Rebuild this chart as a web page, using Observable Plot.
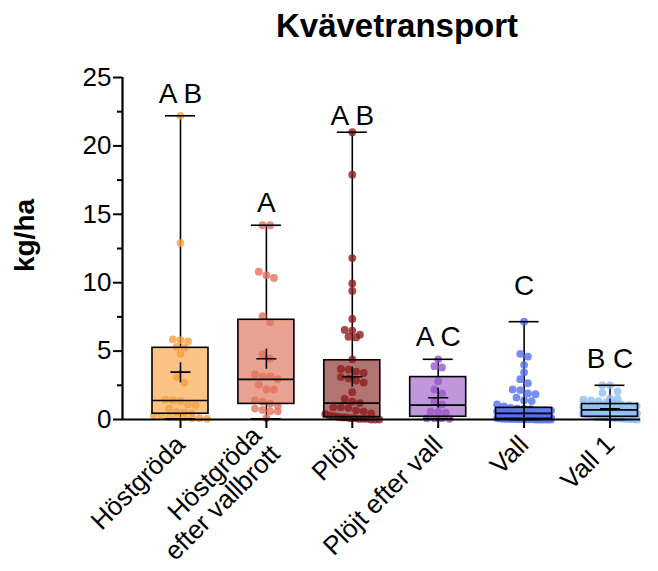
<!DOCTYPE html>
<html>
<head>
<meta charset="utf-8">
<script src="https://cdn.jsdelivr.net/npm/d3@7"></script>
<script src="https://cdn.jsdelivr.net/npm/@observablehq/plot@0.6"></script>
<style>
  html, body { margin: 0; padding: 0; background: #fff; }
  #wrap { width: 658px; height: 571px; position: relative; font-family: "Liberation Sans", Arial, sans-serif; }
  #title { height: 45px; position: relative; }
  #title span { position: absolute; left: 397px; top: 9px; transform: translateX(-50%); font-size: 33px; font-weight: bold; line-height: 1; white-space: nowrap; color: #000; }
</style>
</head>
<body>
<div id="wrap">
  <div id="title"><span>Kvävetransport</span></div>
  <div id="chart"></div>
</div>
<script>
// ---------- data (kg/ha) ----------
const tickLabels = ["Höstgröda", "Höstgröda\nefter vallbrott", "Plöjt", "Plöjt efter vall", "Vall", "Vall 1"];

const hostgroda = [22.2, 12.9, 5.85, 5.8, 5.7, 5.3, 5.25, 4.8, 3.1, 2.7, 1.45, 1.4, 1.35, 1.1, 1.05, 0.8, 0.55, 0.5, 0.45, 0.3, 0.25, 0.2, 0.2, 0.15, 0.1, 0.1, 0.05];
const hostgrodaEfterVallbrott = [14.2, 14.2, 10.8, 10.55, 10.35, 7.55, 7.1, 4.75, 4.45, 3.3, 3.15, 3.15, 2.95, 2.55, 2.2, 2.2, 1.4, 1.3, 1.15, 1.0, 0.8, 0.7, 0.6, 0.6, 0.1];
const plojt = [21.0, 17.9, 11.8, 9.95, 9.4, 7.35, 6.55, 6.5, 6.2, 6.05, 6.0, 4.4, 3.7, 3.65, 3.5, 3.4, 3.1, 3.0, 2.85, 2.7, 2.0, 1.5, 1.3, 1.2, 0.9, 0.9, 0.85, 0.65, 0.6, 0.45, 0.4, 0.3, 0.25, 0.2, 0.15, 0.15, 0.1, 0.1, 0.05, 0.05, 0.05, 0.0, 0.0, 0.0];
const plojtEfterVall = [4.4, 3.9, 3.8, 2.8, 2.2, 1.9, 1.3, 1.1, 0.6, 0.55, 0.5, 0.1, 0.1, 0.05, 0.1];
const vall = [7.15, 4.8, 4.6, 4.0, 3.45, 2.95, 2.65, 2.2, 2.15, 1.9, 1.85, 1.6, 1.4, 1.35, 1.1, 0.95,
  0.85, 0.8, 0.8, 0.75, 0.7, 0.7, 0.65, 0.6, 0.6, 0.55, 0.55, 0.5, 0.5, 0.5, 0.45, 0.45,
  0.42, 0.4, 0.38, 0.35, 0.32, 0.3, 0.28, 0.25, 0.22, 0.2, 0.18, 0.15, 0.12, 0.1, 0.08, 0.06,
  0.05, 0.05, 0.04, 0.04, 0.03, 0.03, 0.02, 0.02, 0.01, 0.01, 0, 0, 0, 0, 0, 0];
const vall1 = [2.5, 2.5, 2.05, 1.95, 1.55, 1.5, 1.45, 1.4, 1.35, 1.25, 1.2, 1.1, 1.05, 1.0, 0.95, 0.9, 0.88, 0.85, 0.8, 0.78, 0.75, 0.72,
  0.7, 0.65, 0.6, 0.55, 0.5, 0.45, 0.42, 0.38, 0.35, 0.3, 0.25, 0.2, 0.18, 0.15, 0.12, 0.1, 0.08, 0.06, 0.05, 0.03, 0.02, 0.0];

// box summary (min–max whiskers)
const mins    = [0.05, 0.05, 0.0, 0.05, 0.0, 0.0];
const q1s     = [0.42, 1.14, 0.17, 0.2, 0.05, 0.2];
const medians = [1.39, 2.93, 1.2, 1.05, 0.45, 0.7];
const q3s     = [5.24, 7.29, 4.33, 3.1, 0.85, 1.13];
const maxs    = [22.2, 14.2, 21.0, 4.4, 7.15, 2.5];
const means   = [3.46, 4.44, 3.12, 1.59, 0.9, 0.79];

// significance letters and their baseline height (kg/ha)
const letters = ["A B", "A", "A B", "A C", "C", "B C"];
const letterY = [23.1, 15.2, 21.5, 5.4, 9.1, 3.8];

const yTicks = [0, 5, 10, 15, 20, 25];
const yMinorTicks = [2.5, 7.5, 12.5, 17.5, 22.5];

// ---------- styles ----------
const dotColors = ["#F5A040", "#E2725A", "#8E1B1E", "#9B55CC", "#5470F2", "#8DBDF4"];
const boxFills  = ["#FDC384", "#E9A192", "#B27472", "#BF98DC", "#A3B2F4", "#B9D6F8"];

const W = 658, H = 526, mTop = 32, mBottom = 152, mLeft = 122, mRight = 18;
const xDomain = [-0.675, 5.355];
const yDomain = [0, 25];
const pxPerX = (W - mLeft - mRight) / (xDomain[1] - xDomain[0]);
const pxPerY = (H - mTop - mBottom) / (yDomain[1] - yDomain[0]);
const boxHalf = 28 / pxPerX, capHalf = 15 / pxPerX;
const dotR = 3.9, dotStep = 7.6, maxSpread = 54;

// deterministic row-based spread (like a scatter dot plot)
function spread(vals) {
  const sorted = vals.slice().sort((a, b) => b - a);
  const rows = [];
  for (const v of sorted) {
    const row = rows[rows.length - 1];
    if (row && (row[0] - v) * pxPerY < dotStep * 0.9) row.push(v);
    else rows.push([v]);
  }
  const out = [];
  for (const row of rows) {
    const n = row.length;
    const step = n > 1 ? Math.min(dotStep, maxSpread / (n - 1)) : 0;
    row.forEach((v, j) => out.push({v, off: ((j - (n - 1) / 2) * step) / pxPerX}));
  }
  return out;
}

const series = [hostgroda, hostgrodaEfterVallbrott, plojt, plojtEfterVall, vall, vall1];
const points = series.flatMap((vals, i) => spread(vals).map(({v, off}) => ({i, v, x: i + off})));
const boxes = tickLabels.map((name, i) => ({
  i, name, min: mins[i], q1: q1s[i], median: medians[i], q3: q3s[i], max: maxs[i], mean: means[i],
  letter: letters[i], ly: letterY[i]
}));

const chart = Plot.plot({
  width: W, height: H,
  marginTop: mTop, marginBottom: mBottom, marginLeft: mLeft, marginRight: mRight,
  style: {fontFamily: '"Liberation Sans", Arial, sans-serif', fontSize: "26px", color: "#000", background: "#fff", overflow: "visible"},
  x: {domain: xDomain, axis: null},
  y: {domain: yDomain, axis: null},
  marks: [
    Plot.rect(boxes, {x1: d => d.i - boxHalf, x2: d => d.i + boxHalf, y1: "q1", y2: "q3", fill: d => boxFills[d.i]}),
    Plot.ruleX(boxes, {x: "i", y1: "q3", y2: "max", stroke: "#000", strokeWidth: 1.6}),
    Plot.ruleX(boxes, {x: "i", y1: "min", y2: "q1", stroke: "#000", strokeWidth: 1.6}),
    Plot.dot(points, {x: "x", y: "v", r: dotR, fill: d => dotColors[d.i], fillOpacity: 0.8, stroke: null}),
    Plot.rect(boxes, {x1: d => d.i - boxHalf, x2: d => d.i + boxHalf, y1: "q1", y2: "q3", fill: "none", stroke: "#000", strokeWidth: 1.6}),
    Plot.ruleY(boxes, {y: "median", x1: d => d.i - boxHalf, x2: d => d.i + boxHalf, stroke: "#000", strokeWidth: 1.6}),
    Plot.ruleY(boxes, {y: "max", x1: d => d.i - capHalf, x2: d => d.i + capHalf, stroke: "#000", strokeWidth: 1.6}),
    Plot.ruleY(boxes, {y: "min", x1: d => d.i - capHalf, x2: d => d.i + capHalf, stroke: "#000", strokeWidth: 1.6}),
    Plot.dot(boxes, {x: "i", y: "mean", symbol: "plus", r: 6.5, stroke: "#000", strokeWidth: 1.6}),
    Plot.text(boxes, {x: "i", y: "ly", text: "letter", lineAnchor: "bottom", fontSize: 28, fill: "#000"}),
    Plot.ruleY([yDomain[0]], {stroke: "#000", strokeWidth: 2.2}),
    Plot.ruleX([xDomain[0]], {y1: yDomain[0], y2: yDomain[1], stroke: "#000", strokeWidth: 2.2}),
    Plot.axisY({ticks: yTicks, tickSize: 9, tickPadding: 2, fontSize: 26, label: null, strokeWidth: 2}),
    Plot.axisY({ticks: yMinorTicks, tickSize: 5, text: null, label: null, strokeWidth: 2}),
    Plot.axisX({ticks: [0, 1, 2, 3, 4, 5], tickFormat: i => tickLabels[i], tickRotate: -45, tickSize: 9, tickPadding: 12, fontSize: 26, label: null, strokeWidth: 2}),
    Plot.text(["kg/ha"], {frameAnchor: "left", text: d => d, textAnchor: "middle", rotate: -90, dx: -97, dy: -13, fontSize: 28, fontWeight: "bold", fill: "#000"})
  ]
});
document.getElementById("chart").appendChild(chart);
</script>
</body>
</html>
